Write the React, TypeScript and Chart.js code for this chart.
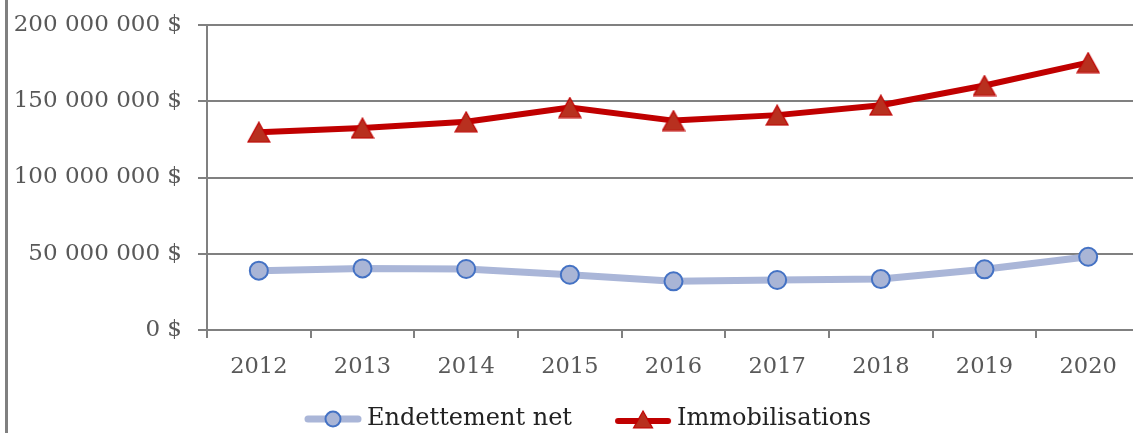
import React, { useEffect, useRef } from "react";
import { Chart, registerables } from "chart.js";

Chart.register(...registerables);

const categories = ["2012", "2013", "2014", "2015", "2016", "2017", "2018", "2019", "2020"];
const endettementNet = [38.9e6, 40.4e6, 40.0e6, 36.2e6, 31.9e6, 32.8e6, 33.4e6, 39.8e6, 48.0e6];
const immobilisations = [129.7e6, 132.4e6, 136.5e6, 145.9e6, 137.3e6, 140.9e6, 147.4e6, 160.3e6, 175.3e6];
const seriesNames = ["Endettement net", "Immobilisations"];
const yMin = 0;
const yMax = 200e6;
const yStep = 50e6;

const FONT = "'DejaVu Serif', serif";
const GRAY = "#808080";
const LABEL = "#595959";
const LEG_IMG_W = 97;

function fmtMoney(v: number): string {
  return String(Math.round(v)).replace(/\B(?=(\d{3})+(?!\d))/g, " ") + " $";
}

function zeroPad(s: any) {
  s.paddingTop = 0;
  s.paddingBottom = 0;
  s.paddingLeft = 0;
  s.paddingRight = 0;
}

function makeTriangle(w: number, h: number, fill: string, stroke: string) {
  const c = document.createElement("canvas");
  c.width = w;
  c.height = h;
  const ctx = c.getContext("2d")!;
  ctx.beginPath();
  ctx.moveTo(w / 2, 1);
  ctx.lineTo(w - 1, h - 1);
  ctx.lineTo(1, h - 1);
  ctx.closePath();
  ctx.fillStyle = fill;
  ctx.fill();
  ctx.strokeStyle = stroke;
  ctx.lineWidth = 1.2;
  ctx.stroke();
  return c;
}

function makeLegendCircle() {
  const c = document.createElement("canvas");
  c.width = LEG_IMG_W;
  c.height = 22;
  const ctx = c.getContext("2d")!;
  const o = LEG_IMG_W - 58;
  ctx.strokeStyle = "#aab6d8";
  ctx.lineWidth = 7;
  ctx.lineCap = "round";
  ctx.beginPath();
  ctx.moveTo(o + 4, 11);
  ctx.lineTo(o + 54, 11);
  ctx.stroke();
  ctx.beginPath();
  ctx.arc(o + 29, 11, 7.5, 0, Math.PI * 2);
  ctx.fillStyle = "#a9b5d6";
  ctx.fill();
  ctx.strokeStyle = "#4472c4";
  ctx.lineWidth = 2;
  ctx.stroke();
  return c;
}

function makeLegendTriangle() {
  const c = document.createElement("canvas");
  c.width = LEG_IMG_W;
  c.height = 22;
  const ctx = c.getContext("2d")!;
  const o = LEG_IMG_W - 58;
  ctx.strokeStyle = "#c00000";
  ctx.lineWidth = 6;
  ctx.lineCap = "round";
  ctx.beginPath();
  ctx.moveTo(o + 4, 13);
  ctx.lineTo(o + 54, 13);
  ctx.stroke();
  ctx.beginPath();
  ctx.moveTo(o + 29, 3);
  ctx.lineTo(o + 38.5, 20);
  ctx.lineTo(o + 19.5, 20);
  ctx.closePath();
  ctx.fillStyle = "#b8301f";
  ctx.fill();
  ctx.strokeStyle = "#c00000";
  ctx.lineWidth = 1.2;
  ctx.stroke();
  return c;
}

export default function App() {
  const ref = useRef<HTMLCanvasElement | null>(null);

  useEffect(() => {
    if (!ref.current) return;
    const tri = makeTriangle(24, 22, "#b8301f", "#c00000");
    const legendImgs = [makeLegendCircle(), makeLegendTriangle()];
    const chart = new Chart(ref.current, {
      type: "line",
      data: {
        labels: categories,
        datasets: [
          {
            label: seriesNames[0],
            data: endettementNet,
            borderColor: "#aab6d8",
            borderWidth: 7,
            borderJoinStyle: "round",
            borderCapStyle: "round",
            pointStyle: "circle",
            pointRadius: 9,
            pointBackgroundColor: "#a9b5d6",
            pointBorderColor: "#4472c4",
            pointBorderWidth: 2,
            tension: 0,
            clip: false,
          },
          {
            label: seriesNames[1],
            data: immobilisations,
            borderColor: "#c00000",
            borderWidth: 6,
            borderJoinStyle: "round",
            borderCapStyle: "round",
            pointStyle: tri as any,
            pointRadius: 12,
            tension: 0,
            clip: false,
          },
        ],
      },
      options: {
        animation: false,
        responsive: false,
        devicePixelRatio: 1,
        layout: { autoPadding: false, padding: { top: 25, left: 0, right: 0, bottom: 0 } },
        plugins: {
          tooltip: { enabled: false },
          legend: {
            position: "bottom",
            labels: {
              usePointStyle: true,
              pointStyleWidth: 83,
              padding: 10,
              color: "#222",
              font: { family: FONT, size: 24 },
              generateLabels: (ch: any) =>
                ch.data.datasets.map((d: any, i: number) => ({
                  text: d.label,
                  pointStyle: legendImgs[i],
                  fillStyle: "transparent",
                  strokeStyle: "transparent",
                  lineWidth: 0,
                  hidden: false,
                  datasetIndex: i,
                  fontColor: "#222",
                })),
            },
          },
        },
        scales: {
          x: {
            type: "category",
            offset: true,
            grid: {
              offset: true,
              drawOnChartArea: false,
              drawTicks: true,
              tickLength: 8,
              color: GRAY,
              lineWidth: 2,
            },
            border: { display: true, color: GRAY, width: 2 },
            ticks: { color: LABEL, font: { family: FONT, size: 22.5 }, padding: 16 },
            afterFit: (s: any) => {
              s.height = 67;
              zeroPad(s);
            },
          },
          y: {
            type: "linear",
            min: yMin,
            max: yMax,
            position: "left",
            grid: { color: GRAY, lineWidth: 2, tickLength: 9, drawTicks: true },
            border: { display: true, color: GRAY, width: 2 },
            ticks: {
              stepSize: yStep,
              color: LABEL,
              font: { family: FONT, size: 23 },
              padding: 16,
              callback: (v: any) => fmtMoney(Number(v)),
            },
            afterFit: (s: any) => {
              s.width = 207;
              zeroPad(s);
            },
          },
          yR: {
            type: "linear",
            position: "right",
            display: true,
            grid: { display: false },
            border: { display: false },
            ticks: { display: false },
            afterFit: (s: any) => {
              s.width = 3;
              zeroPad(s);
            },
          },
        },
      },
    } as any);
    return () => chart.destroy();
  }, []);

  return (
    <div
      style={{
        position: "fixed",
        left: 0,
        top: 0,
        width: 1133,
        height: 433,
        overflow: "hidden",
        background: "#fff",
      }}
    >
      <canvas ref={ref} width={1143} height={441} style={{ width: 1143, height: 441, display: "block" }} />
      <div style={{ position: "absolute", left: 5, top: 0, width: 3, height: 433, background: GRAY }} />
    </div>
  );
}
